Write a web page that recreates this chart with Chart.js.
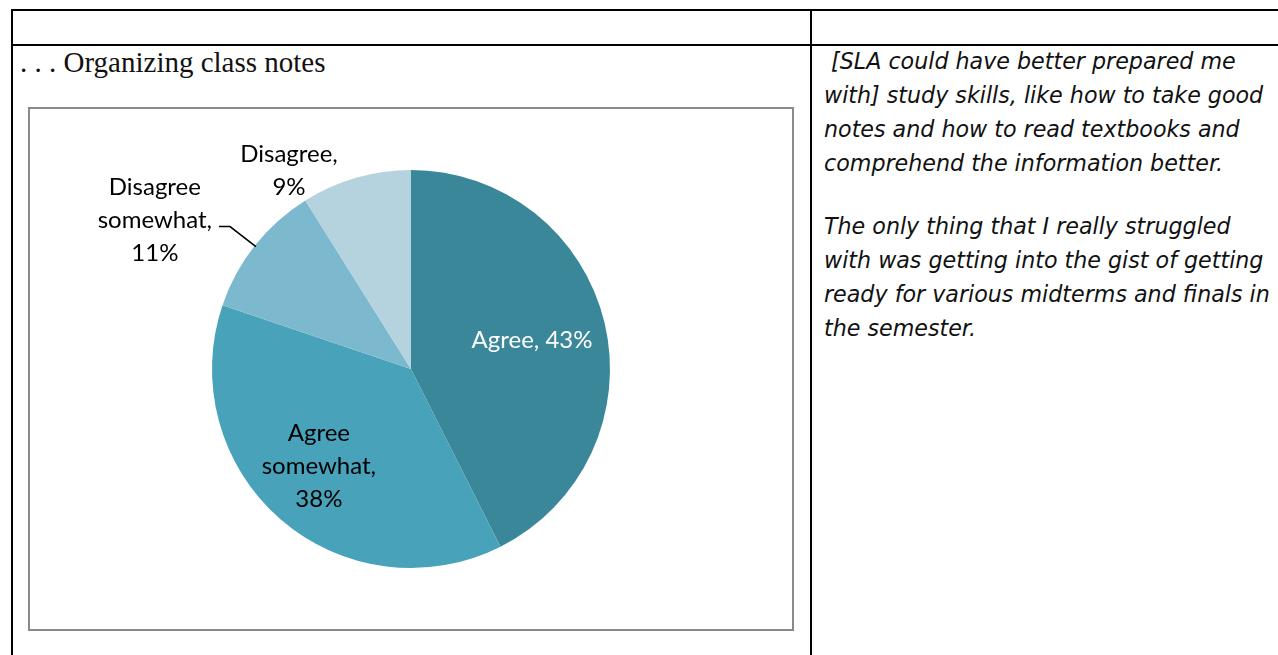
<!DOCTYPE html>
<html>
<head>
<meta charset="utf-8">
<script src="https://cdn.jsdelivr.net/npm/chart.js@4/dist/chart.umd.min.js"></script>
<style>
  html, body { margin: 0; padding: 0; background: #fff; }
  body { width: 1278px; height: 655px; position: relative; overflow: hidden; }
  .rule { position: absolute; background: #000; }
  #title {
    position: absolute; left: 20px; top: 44px;
    font-family: "Liberation Serif", "DejaVu Serif", serif;
    font-size: 29px; color: #111; white-space: nowrap; line-height: 36px;
  }
  #chartBox {
    position: absolute; left: 28px; top: 107px; width: 766px; height: 524px;
    box-sizing: border-box; border: 2px solid #898989; background: #fff;
  }
  #chartBox canvas { display: block; }
  #quote {
    position: absolute; left: 824px; top: 44px; width: 454px;
    font-family: "DejaVu Sans", "Liberation Sans", sans-serif; font-style: italic;
    font-size: 22.2px; line-height: 34px; color: #111; white-space: nowrap;
  }
  #quote p { margin: 0 0 29px 0; }
</style>
</head>
<body>
<div class="rule" style="left:11px; top:9px; width:1267px; height:2px;"></div>
<div class="rule" style="left:11px; top:44px; width:1267px; height:2px;"></div>
<div class="rule" style="left:11px; top:9px; width:2px; height:646px;"></div>
<div class="rule" style="left:810px; top:9px; width:2px; height:646px;"></div>

<div id="title">. . . Organizing class notes</div>

<div id="chartBox"><canvas id="pie" width="762" height="520"></canvas></div>

<div id="quote">
  <p>&nbsp;[SLA could have better prepared me<br>with] study skills, like how to take good<br>notes and how to read textbooks and<br>comprehend the information better.</p>
  <p>The only thing that I really struggled<br>with was getting into the gist of getting<br>ready for various midterms and finals in<br>the semester.</p>
</div>

<script>
// Survey responses: "Organizing class notes"
const categories = ["Agree", "Agree somewhat", "Disagree somewhat", "Disagree"];
const percents = [43, 38, 11, 9];
const sliceColors = ["#3A879A", "#48A2BA", "#7DB9CE", "#B5D3DF"];
const labelColors = ["#ffffff", "#000000", "#000000", "#000000"];

// Label lines: category name and percentage, wrapped like the data labels
const labelLines = [
  ["Agree, 43%"],
  ["Agree", "somewhat,", "38%"],
  ["Disagree", "somewhat,", "11%"],
  ["Disagree,", "9%"]
];

// Where each label sits relative to its slice
const labelPlacement = [
  { mode: "inside", radius: 0.625, dx: 0, dy: 0 },
  { mode: "inside", radius: 0.66, dx: -6, dy: -2 },
  { mode: "outside", dx: -100, dy: -25, leader: true },
  { mode: "outside", dx: -67, dy: -7, leader: false }
];

const pieLabels = {
  id: "pieLabels",
  afterDatasetsDraw(chart) {
    const ctx = chart.ctx;
    const meta = chart.getDatasetMeta(0);
    const lineH = 33;
    ctx.save();
    ctx.font = "24px Lato, 'Open Sans', sans-serif";
    ctx.textAlign = "center";
    ctx.textBaseline = "middle";
    meta.data.forEach((arc, i) => {
      const p = arc.getProps(["x", "y", "startAngle", "endAngle", "outerRadius"], true);
      const mid = (p.startAngle + p.endAngle) / 2;
      const place = labelPlacement[i];
      let cx, cy;
      const ex = p.x + Math.cos(mid) * p.outerRadius;
      const ey = p.y + Math.sin(mid) * p.outerRadius;
      if (place.mode === "inside") {
        cx = p.x + Math.cos(mid) * p.outerRadius * place.radius + place.dx;
        cy = p.y + Math.sin(mid) * p.outerRadius * place.radius + place.dy;
      } else {
        cx = ex + place.dx;
        cy = ey + place.dy;
      }
      const lines = labelLines[i];
      const top = cy - (lines.length - 1) * lineH / 2;
      ctx.fillStyle = labelColors[i];
      let maxW = 0;
      lines.forEach((t, k) => {
        ctx.fillText(t, cx, top + k * lineH);
        maxW = Math.max(maxW, ctx.measureText(t).width);
      });
      if (place.leader) {
        const lx = cx + maxW / 2 + 7;
        const ly = cy + 6;
        ctx.beginPath();
        ctx.strokeStyle = "#000";
        ctx.lineWidth = 1.5;
        ctx.moveTo(lx, ly);
        ctx.lineTo(lx + 11, ly);
        ctx.lineTo(ex + 1, ey + 1);
        ctx.stroke();
      }
    });
    ctx.restore();
  }
};

new Chart(document.getElementById("pie"), {
  type: "pie",
  data: {
    labels: categories,
    datasets: [{
      data: percents,
      backgroundColor: sliceColors,
      borderWidth: 0
    }]
  },
  options: {
    responsive: false,
    animation: false,
    devicePixelRatio: 1,
    layout: { padding: 61 },
    plugins: {
      legend: { display: false },
      tooltip: { enabled: false }
    }
  },
  plugins: [pieLabels]
});
</script>
</body>
</html>
